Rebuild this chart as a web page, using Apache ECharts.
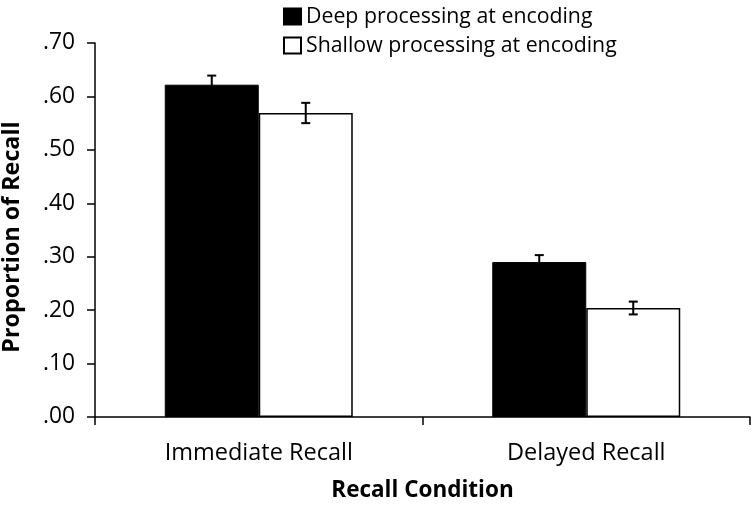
<!DOCTYPE html>
<html><head><meta charset="utf-8">
<script src="https://cdn.jsdelivr.net/npm/echarts@6/dist/echarts.min.js"></script>
<style>html,body{margin:0;padding:0;background:#fff}#c{width:755px;height:505px}</style>
</head><body><div id="c"></div>
<script>
var categories = ['Immediate Recall', 'Delayed Recall'];
var seriesNames = ['Deep processing at encoding', 'Shallow processing at encoding'];
var deepValues = [0.622, 0.290];
var shallowValues = [0.569, 0.204];
var deepErrors = [0.017, 0.013];
var shallowErrors = [0.019, 0.012];
var yTickLabels = ['.00', '.10', '.20', '.30', '.40', '.50', '.60', '.70'];

var FONT = 'Open Sans';
var gapPct = 0.426;

function errSeries(values, errs, side) {
  var data = values.map(function (v, i) { return [i, v - errs[i], v + errs[i]]; });
  return {
    type: 'custom',
    silent: true,
    z: 10,
    data: data,
    renderItem: function (params, api) {
      var band = api.size([1, 0])[0];
      var bw = band * (1 - gapPct) / 2;
      var lo = api.coord([api.value(0), api.value(1)]);
      var hi = api.coord([api.value(0), api.value(2)]);
      var x = lo[0] + side * bw / 2;
      var cap = 4.5;
      var st = { stroke: '#000', lineWidth: 2 };
      return {
        type: 'group',
        children: [
          { type: 'line', shape: { x1: x, y1: lo[1], x2: x, y2: hi[1] }, style: st },
          { type: 'line', shape: { x1: x - cap, y1: lo[1], x2: x + cap, y2: lo[1] }, style: st },
          { type: 'line', shape: { x1: x - cap, y1: hi[1], x2: x + cap, y2: hi[1] }, style: st }
        ]
      };
    }
  };
}

var chart = echarts.init(document.getElementById('c'));
chart.setOption({
  animation: false,
  textStyle: { fontFamily: FONT },
  grid: { left: 95, right: 5, top: 43, bottom: 88, containLabel: false, outerBoundsMode: 'none' },
  legend: {
    orient: 'vertical',
    left: 283,
    top: 6,
    padding: 0,
    itemGap: 8,
    itemWidth: 17,
    itemHeight: 16,
    icon: 'rect',
    textStyle: { fontFamily: FONT, fontSize: 21.3, color: '#000', padding: [0, 0, 0, 0] },
    data: seriesNames
  },
  xAxis: {
    type: 'category',
    data: categories,
    name: 'Recall Condition',
    nameLocation: 'middle',
    nameGap: 62,
    nameTextStyle: { fontFamily: FONT, fontSize: 22.5, fontWeight: 'bold', color: '#000' },
    axisLine: { lineStyle: { color: '#000', width: 1.5 } },
    axisTick: { show: true, length: 8, lineStyle: { color: '#000', width: 1.5 } },
    axisLabel: { fontFamily: FONT, fontSize: 23.5, color: '#000', margin: 24 }
  },
  yAxis: {
    type: 'value',
    min: 0,
    max: 0.7,
    interval: 0.1,
    name: 'Proportion of Recall',
    nameLocation: 'middle',
    nameGap: 71,
    nameTextStyle: { fontFamily: FONT, fontSize: 23.3, fontWeight: 'bold', color: '#000', padding: [0, 14, 0, 0] },
    splitLine: { show: false },
    axisLine: { show: true, lineStyle: { color: '#000', width: 1.5 } },
    axisTick: { show: true, length: 8, lineStyle: { color: '#000', width: 1.5 } },
    axisLabel: {
      fontFamily: FONT, fontSize: 22.8, color: '#000', margin: 20,
      formatter: function (v) { return yTickLabels[Math.round(v * 10)]; }
    }
  },
  series: [
    {
      name: seriesNames[0], type: 'bar', data: deepValues,
      barGap: '0%', barCategoryGap: (gapPct * 100) + '%',
      itemStyle: { color: '#000', borderColor: '#000', borderWidth: 1 }
    },
    {
      name: seriesNames[1], type: 'bar', data: shallowValues,
      barGap: '0%', barCategoryGap: (gapPct * 100) + '%',
      itemStyle: { color: '#fff', borderColor: '#000', borderWidth: 1.5 }
    },
    errSeries(deepValues, deepErrors, -1),
    errSeries(shallowValues, shallowErrors, 1)
  ]
});
</script></body></html>
